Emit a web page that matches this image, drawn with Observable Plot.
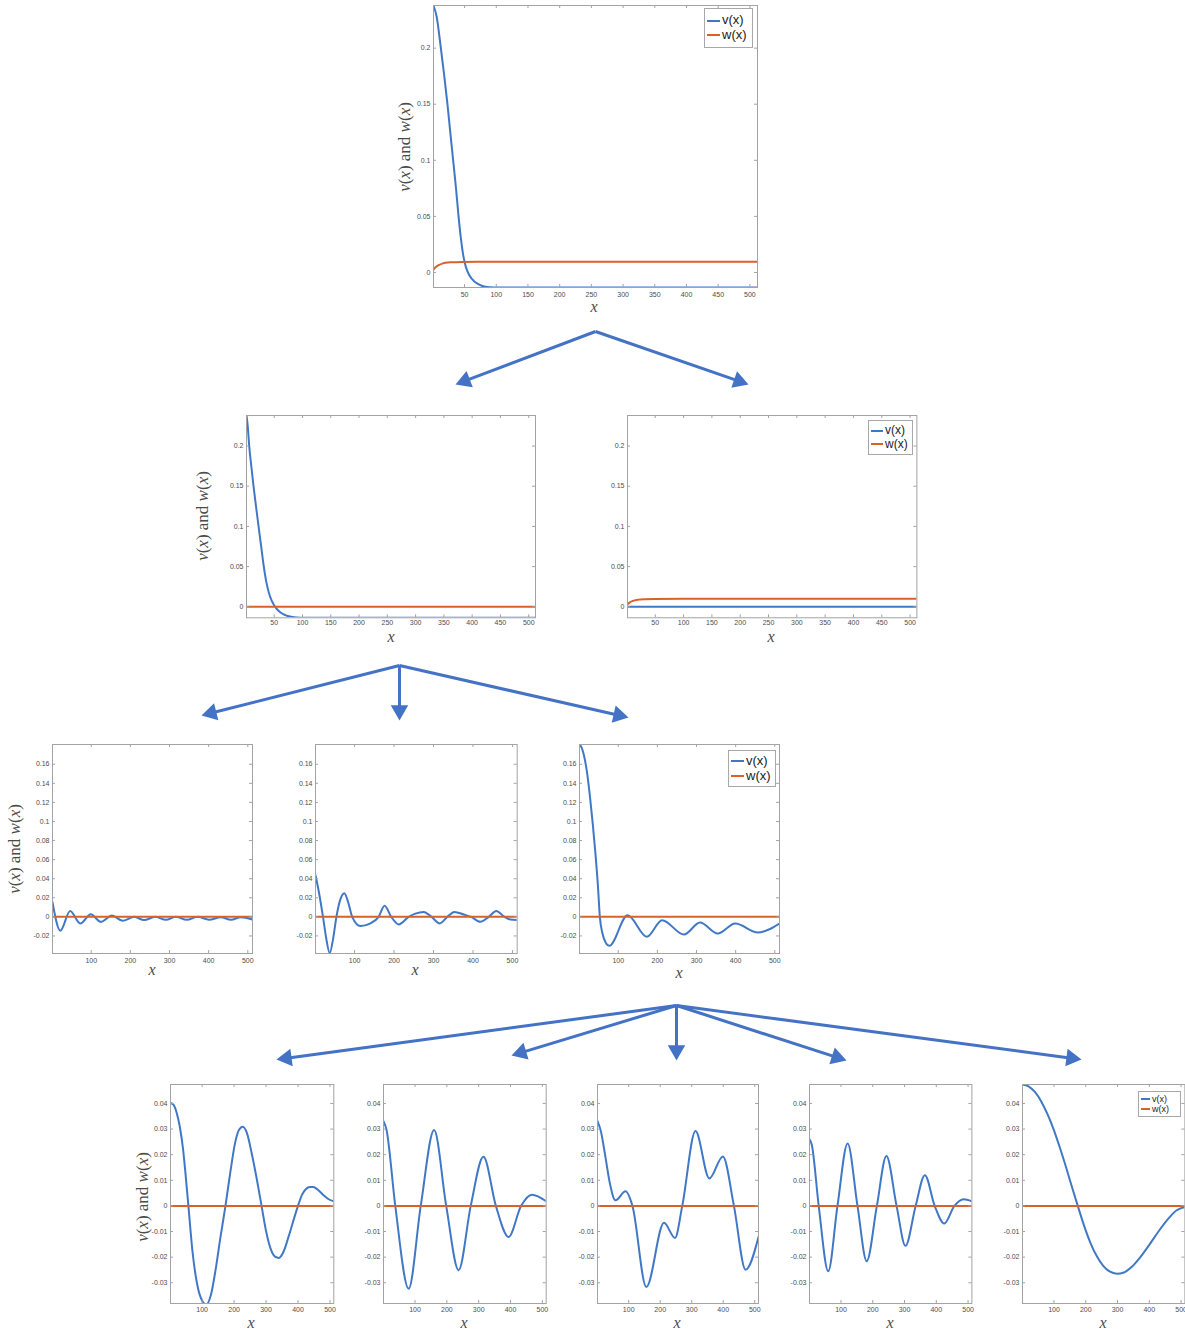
<!DOCTYPE html>
<html>
<head>
<meta charset="utf-8">
<script src="https://cdn.jsdelivr.net/npm/d3@7"></script>
<script src="https://cdn.jsdelivr.net/npm/@observablehq/plot@0.6"></script>
<style>
  html, body { margin: 0; padding: 0; background: #fff; }
  #page { position: relative; width: 1185px; height: 1332px; overflow: hidden; background: #fff; font-family: "Liberation Sans", Arial, sans-serif; }
  #page svg { position: absolute; overflow: visible; }
  .ylab { position: absolute; transform: translate(-50%, -50%) rotate(-90deg); white-space: nowrap;
          font-family: "Liberation Serif", "DejaVu Serif", serif; font-size: 17px; color: #4a4a4a; }
  .xlab { position: absolute; transform: translate(-50%, -50%); font-family: "Liberation Serif", "DejaVu Serif", serif;
          font-style: italic; font-size: 16px; color: #4a4a4a; line-height: 16px; }
  .legend { position: absolute; box-sizing: border-box; border: 1px solid #a8a8a8; background: #fff;
            font-family: "Liberation Sans", Arial, sans-serif; color: #222; display: flex; flex-direction: column; justify-content: center; }
  .legend .row { display: flex; align-items: center; white-space: nowrap; }
  .legend .sw { display: inline-block; height: 2px; margin-right: 2px; }
</style>
</head>
<body>
<div id="page"></div>
<script>
// ---------- data ----------
const xDomain = [1, 512];
const xTicksA = [50, 100, 150, 200, 250, 300, 350, 400, 450, 500];
const xTicksB = [100, 200, 300, 400, 500];
const yTicksTop = [0, 0.05, 0.1, 0.15, 0.2];
const yTicksMid = [-0.02, 0, 0.02, 0.04, 0.06, 0.08, 0.1, 0.12, 0.14, 0.16];
const yTicksLow = [-0.03, -0.02, -0.01, 0, 0.01, 0.02, 0.03, 0.04];
const seriesNames = ["v(x)", "w(x)"];

// level 1
const p1V = [[1,0.238],[6,0.228],[12.6,0.2],[18,0.175],[23,0.15],[28,0.122],[32,0.1],[36.5,0.075],[40.5,0.05],[44.5,0.029],[48,0.015],[52,0.005],[58,-0.003],[67,-0.0088],[78,-0.012],[90,-0.0131],[102,-0.0134],[512,-0.0134]];
const p1W = [[1,0.0025],[5,0.005],[10,0.0068],[15,0.0079],[20,0.0086],[30,0.0091],[45,0.0094],[70,0.0095],[512,0.0095]];
// level 2
const p2V = [[1,0.238],[3,0.226],[5.8,0.2],[9.5,0.175],[13.4,0.15],[18,0.124],[22.3,0.1],[27,0.075],[31.2,0.052],[36,0.031],[42,0.014],[50.6,0.001],[60,-0.0065],[69.5,-0.0103],[80,-0.0124],[90,-0.0134],[102,-0.0137],[512,-0.0137]];
const p2W = [[1,0],[512,0]];
const p3V = [[1,0],[512,0]];
const p3W = [[1,0.003],[5,0.0055],[10,0.0072],[15,0.0083],[20,0.0089],[30,0.0094],[50,0.0097],[100,0.0099],[512,0.0099]];
// level 3
const p4V = [[1,0.0155],[21,-0.0145],[46,0.0062],[72,-0.0069],[99,0.0028],[124,-0.0052],[153,0.0014],[180,-0.0041],[210,0.0],[235,-0.0034],[263,0.0],[291,-0.0031],[316,0.0],[344,-0.0031],[372,0.0],[401,-0.003],[431,-0.0003],[457,-0.003],[482,-0.0004],[512,-0.0028]];
const p5V = [[1,0.0436],[10,0.025],[20,0],[28,-0.022],[37,-0.038],[46,-0.022],[54,0],[63,0.017],[74,0.0248],[84,0.015],[94,0],[115,-0.0097],[140,-0.0069],[161,0],[176,0.0117],[193,0],[212,-0.0079],[237,0],[254,0.0034],[275,0.0052],[295,0],[316,-0.0069],[335,0],[353,0.0052],[377,0.0024],[395,0],[419,-0.0052],[440,0],[459,0.0062],[480,0],[495,-0.0028],[512,-0.0034]];
const p6V = [[1,0.1805],[6,0.178],[12,0.17],[20,0.152],[28,0.125],[35,0.097],[42,0.065],[48,0.033],[53,0],[60,-0.018],[68,-0.027],[77,-0.0304],[124,0.0017],[173,-0.0209],[212,-0.0035],[268,-0.0185],[309,-0.0059],[354,-0.0175],[399,-0.007],[457,-0.0164],[512,-0.007]];
const wZero = [[1,0],[512,0]];
// level 4
const p7V = [[1,0.0402],[10,0.0395],[20,0.0365],[30,0.031],[40,0.0225],[48,0.0125],[57,0],[70,-0.018],[85,-0.031],[100,-0.037],[113,-0.0385],[128,-0.0345],[142,-0.025],[157,-0.0125],[173,0],[188,0.013],[203,0.0245],[215,0.0296],[227,0.0309],[240,0.0285],[256,0.02],[271,0.0105],[286,0],[300,-0.0098],[315,-0.017],[328,-0.0198],[340,-0.0203],[355,-0.0178],[370,-0.0122],[385,-0.006],[400,0],[412,0.0042],[425,0.0066],[437,0.0074],[448,0.0074],[462,0.0063],[480,0.0042],[496,0.0026],[512,0.0018]];
const p8V = [[1,0.0331],[10,0.03],[38,0],[80,-0.0323],[118,0],[160,0.0296],[198,0],[237,-0.0251],[275,0],[315,0.0192],[354,0],[394,-0.0121],[433,0],[467,0.0044],[512,0.0018]];
const p9V = [[1,0.0331],[12,0.029],[25,0.02],[40,0.009],[58,0.0022],[90,0.0057],[112,0],[156,-0.0317],[212,-0.0066],[247,-0.0125],[270,0],[312,0.0292],[356,0.0107],[399,0.0193],[434,0],[471,-0.0249],[512,-0.0121]];
const p10V = [[1,0.026],[8,0.024],[30,0],[60,-0.0255],[89,0],[121,0.0244],[152,0],[181,-0.0216],[213,0],[243,0.0195],[275,0],[303,-0.0156],[335,0],[364,0.012],[395,0],[425,-0.0069],[457,0],[486,0.0026],[512,0.0018]];
const p11V = [[1,0.0474],[20,0.0467],[40,0.0445],[60,0.0408],[80,0.0357],[100,0.0295],[120,0.0222],[140,0.0143],[160,0.006],[175,0],[195,-0.0078],[215,-0.0145],[235,-0.0197],[255,-0.0234],[275,-0.0256],[298,-0.0265],[320,-0.026],[345,-0.0238],[370,-0.0203],[400,-0.0152],[430,-0.0098],[460,-0.005],[485,-0.0018],[512,-0.0004]];

// arrows of the tree (page pixels: from, to)
const arrowFrom = [[595,331],[595,331],[399,665],[399,665],[399,665],[676,1005],[676,1005],[676,1005],[676,1005],[676,1005]];
const arrowTo   = [[455,384],[748,384],[201,715],[399,720],[628,717],[276,1059],[511,1055],[676,1060],[846,1060],[1081,1059]];

// ---------- layout / style ----------
const vColor = "#4178c6";
const wColor = "#d9622b";
const arrowColor = "#4472c4";
const frameColor = "#a3a3a3";
const fmt = d => String(+d.toFixed(4));

const panels = [
  {frame:[432.7,5,756.7,287], yDomain:[-0.0134,0.238], xTicks:xTicksA, yTicks:yTicksTop, v:p1V, w:p1W, pad:5,
   ylab:[405,147], xlab:[594,307], legend:{box:[704,8,49,40], fs:13}},
  {frame:[246,415,535,617.3], yDomain:[-0.0137,0.238], xTicks:xTicksA, yTicks:yTicksTop, v:p2V, w:p2W, pad:2,
   ylab:[203,516], xlab:[391,637]},
  {frame:[627.3,415,916.7,617.3], yDomain:[-0.0137,0.238], xTicks:xTicksA, yTicks:yTicksTop, v:p3V, w:p3W, pad:2,
   xlab:[771,637], legend:{box:[868,420,45,35], fs:12}},
  {frame:[51.7,744.3,251.7,953.3], yDomain:[-0.0384,0.1807], xTicks:xTicksB, yTicks:yTicksMid, v:p4V, w:wZero, pad:5,
   ylab:[15,849], xlab:[152,970]},
  {frame:[315,744.3,516.7,953.3], yDomain:[-0.0384,0.1807], xTicks:xTicksB, yTicks:yTicksMid, v:p5V, w:wZero, pad:5,
   xlab:[415,970]},
  {frame:[579.3,744.3,779.3,953.3], yDomain:[-0.0384,0.1807], xTicks:xTicksB, yTicks:yTicksMid, v:p6V, w:wZero, pad:5,
   xlab:[679,973], legend:{box:[728,750,48,37], fs:13}},
  {frame:[170,1084.3,333.3,1303.3], yDomain:[-0.0381,0.0474], xTicks:xTicksB, yTicks:yTicksLow, v:p7V, w:wZero, pad:4,
   ylab:[143,1197], xlab:[251,1323]},
  {frame:[383.3,1084.3,546,1303.3], yDomain:[-0.0381,0.0474], xTicks:xTicksB, yTicks:yTicksLow, v:p8V, w:wZero, pad:4,
   xlab:[464,1323]},
  {frame:[596.7,1084.3,757.7,1303.3], yDomain:[-0.0381,0.0474], xTicks:xTicksB, yTicks:yTicksLow, v:p9V, w:wZero, pad:4,
   xlab:[677,1323]},
  {frame:[809.3,1084.3,971.7,1303.3], yDomain:[-0.0381,0.0474], xTicks:xTicksB, yTicks:yTicksLow, v:p10V, w:wZero, pad:4,
   xlab:[890,1323]},
  {frame:[1022.3,1084.3,1184.7,1303.3], yDomain:[-0.0381,0.0474], xTicks:xTicksB, yTicks:yTicksLow, v:p11V, w:wZero, pad:4,
   xlab:[1103,1323], legend:{box:[1138,1091,43,26], fs:9}}
];

const page = document.getElementById("page");

// ---------- arrows (drawn first, underneath) ----------
const arrows = arrowFrom.map((f, i) => {
  const t = arrowTo[i];
  const dx = t[0] - f[0], dy = t[1] - f[1], len = Math.hypot(dx, dy);
  const ux = dx / len, uy = dy / len;
  const r = 6.5, tip = 2 * Math.sqrt((Math.PI * r * r) / (3 * Math.sqrt(3)));
  return {x1: f[0], y1: f[1], x2: t[0] - ux * tip, y2: t[1] - uy * tip,
          angle: Math.atan2(ux, -uy) * 180 / Math.PI};
});
const arrowPlot = Plot.plot({
  width: 1185, height: 1332, margin: 0,
  x: {domain: [0, 1185], axis: null},
  y: {domain: [0, 1332], reverse: true, axis: null},
  style: {background: "transparent"},
  marks: [
    Plot.link(arrows, {x1: "x1", y1: "y1", x2: "x2", y2: "y2", stroke: arrowColor, strokeWidth: 3}),
    Plot.dot(arrows, {x: "x2", y: "y2", r: 6.5, symbol: "triangle", rotate: "angle", fill: arrowColor, stroke: "none"})
  ]
});
arrowPlot.style.left = "0px"; arrowPlot.style.top = "0px";
page.appendChild(arrowPlot);

// ---------- panels ----------
function toRows(arr) { return arr.map(([x, y]) => ({x, y})); }

panels.forEach(p => {
  const [L, T, R, B] = p.frame;
  const W = R - L, H = B - T;
  const ml = 34, mr = 6, mt = 6, mb = 18;
  const chart = Plot.plot({
    width: W + ml + mr, height: H + mt + mb,
    marginLeft: ml, marginRight: mr, marginTop: mt, marginBottom: mb,
    x: {domain: xDomain},
    y: {domain: p.yDomain},
    style: {fontSize: "7px", fontFamily: "'Liberation Sans', Arial, sans-serif", color: "#4d4d4d", background: "transparent", overflow: "visible"},
    marks: [
      Plot.frame({fill: "#fff", stroke: "none"}),
      Plot.line(toRows(p.v), {x: "x", y: "y", stroke: vColor, strokeWidth: 2, curve: "monotone-x", clip: true}),
      Plot.line(toRows(p.w), {x: "x", y: "y", stroke: wColor, strokeWidth: 2, curve: "monotone-x", clip: true}),
      Plot.tickX(p.xTicks, {x: d => d, insetTop: H - 3, stroke: frameColor}),
      Plot.tickX(p.xTicks, {x: d => d, insetBottom: H - 3, stroke: frameColor}),
      Plot.tickY(p.yTicks, {y: d => d, insetRight: W - 3, stroke: frameColor}),
      Plot.tickY(p.yTicks, {y: d => d, insetLeft: W - 3, stroke: frameColor}),
      Plot.frame({stroke: frameColor, strokeWidth: 1}),
      Plot.axisX(p.xTicks, {tickSize: 0, tickPadding: p.pad, tickFormat: fmt, label: null}),
      Plot.axisY(p.yTicks, {tickSize: 0, tickPadding: 3, tickFormat: fmt, label: null})
    ]
  });
  chart.style.left = (L - ml) + "px";
  chart.style.top = (T - mt) + "px";
  page.appendChild(chart);

  if (p.ylab) {
    const d = document.createElement("div");
    d.className = "ylab";
    d.innerHTML = "<i>v</i>(<i>x</i>) and <i>w</i>(<i>x</i>)";
    d.style.left = p.ylab[0] + "px"; d.style.top = p.ylab[1] + "px";
    page.appendChild(d);
  }
  if (p.xlab) {
    const d = document.createElement("div");
    d.className = "xlab";
    d.textContent = "x";
    d.style.left = p.xlab[0] + "px"; d.style.top = p.xlab[1] + "px";
    page.appendChild(d);
  }
  if (p.legend) {
    const [lx, ly, lw, lh] = p.legend.box;
    const d = document.createElement("div");
    d.className = "legend";
    d.style.left = lx + "px"; d.style.top = ly + "px";
    d.style.width = lw + "px"; d.style.height = lh + "px";
    d.style.fontSize = p.legend.fs + "px";
    d.style.lineHeight = (p.legend.fs * 1.15) + "px";
    const swW = Math.round(p.legend.fs * 1.0);
    [vColor, wColor].forEach((c, i) => {
      const row = document.createElement("div");
      row.className = "row";
      row.innerHTML = `<span class="sw" style="width:${swW}px;background:${c};margin-left:2px"></span><span>${seriesNames[i]}</span>`;
      d.appendChild(row);
    });
    page.appendChild(d);
  }
});
</script>
</body>
</html>
